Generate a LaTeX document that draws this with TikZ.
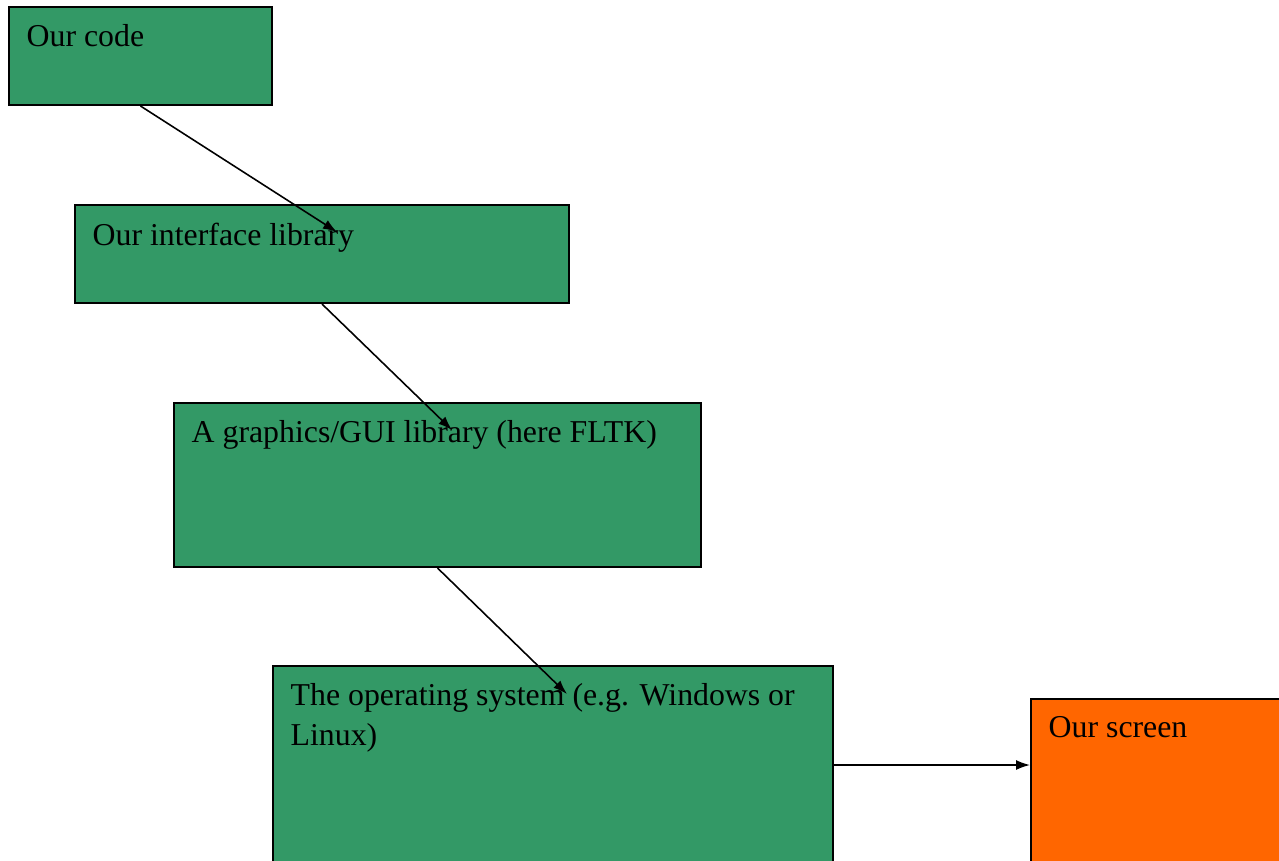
\documentclass[tikz,border=0pt]{standalone}
\usepackage{fontspec}
\setmainfont{Liberation Serif}
\usetikzlibrary{arrows.meta}
\definecolor{layergreen}{HTML}{339966}
\definecolor{screenorange}{HTML}{FF6600}
\tikzset{
  layerbox/.style={draw=black, line width=0.57pt, fill=layergreen, anchor=north west, inner sep=0pt},
  layertext/.style={anchor=north west, inner sep=0pt, align=left, font=\fontsize{9.05}{11.4}\selectfont},
  callarrow/.style={-{Latex[length=0.14cm,width=0.1cm]}, line width=0.45pt},
}
\begin{document}
\begin{tikzpicture}
            \useasboundingbox (0,0) rectangle (12.79,-8.60);
            % the layers
            \node[layerbox, minimum width=2.63cm, minimum height=0.98cm] (code) at (0.08,-0.06) {};
            \node[layerbox, minimum width=4.94cm, minimum height=0.98cm] (iface) at (0.74,-2.04) {};
            \node[layerbox, minimum width=5.27cm, minimum height=1.64cm] (gui) at (1.73,-4.02) {};
            \node[layerbox, minimum width=5.60cm, minimum height=1.98cm] (osys) at (2.72,-6.65) {};
            \node[layerbox, fill=screenorange, minimum width=2.80cm, minimum height=2.00cm] (screen) at (10.30,-6.98) {};
            % labels
            \node[layertext] (codetext) at ([shift={(0.18,-0.18)}]code.north west) {Our code};
            \node[layertext] (ifacetext) at ([shift={(0.18,-0.18)}]iface.north west) {Our interface library};
            \node[layertext] (guitext) at ([shift={(0.18,-0.18)}]gui.north west) {A graphics/GUI library (here FLTK)};
            \node[layertext] (osystext) at ([shift={(0.18,-0.18)}]osys.north west) {The operating system (e.g. Windows or\\Linux)};
            \node[layertext] (screentext) at ([shift={(0.18,-0.18)}]screen.north west) {Our screen};
            % arrow ends
            \coordinate (ifacein) at ([shift={(2.63,-0.28)}]iface.north west);
            \coordinate (guiin) at ([shift={(2.79,-0.28)}]gui.north west);
            \coordinate (osysin) at ([shift={(2.95,-0.29)}]osys.north west);
            \draw[callarrow] (code.south) -- (ifacein);
            \draw[callarrow] (iface.south) -- (guiin);
            \draw[callarrow] (gui.south) -- (osysin);
            \draw[callarrow] (osys.east) -- (osys.east -| screen.west);
        \end{tikzpicture}
\end{document}
